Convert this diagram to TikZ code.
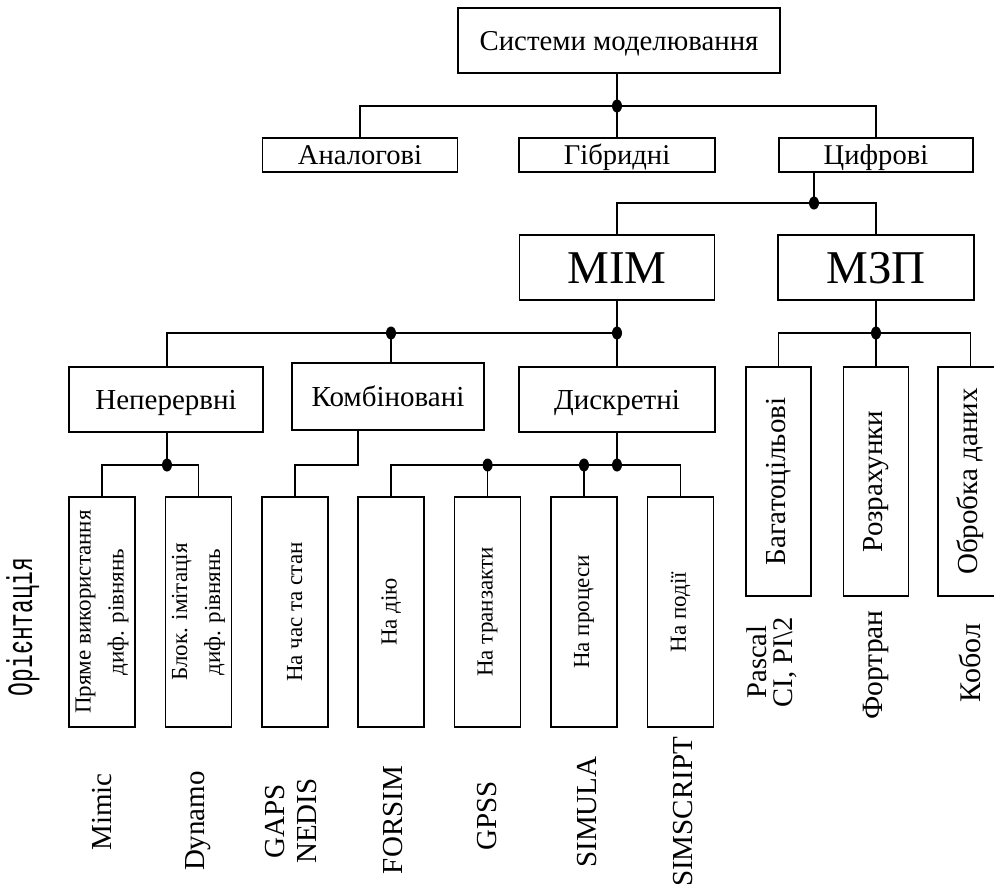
\documentclass[tikz,border=0pt]{standalone}
\usepackage{fontspec}
\setmainfont{Liberation Serif}
\newfontfamily\orfont{Liberation Mono}
\newcommand\fsz[2]{\fontsize{#1}{#2}\selectfont}
\begin{document}
\begin{tikzpicture}[x=1pt,y=-1pt, line width=1.6pt,
  box/.style={draw, rectangle, inner sep=0pt, align=center},
  hbox/.style={box, text depth=0pt},
  vbox/.style={box, minimum width=66, minimum height=230},
  vtext/.style={rotate=90, align=center, inner sep=0pt},
  lbl/.style={rotate=90, align=center, inner sep=0pt, font=\fsz{29}{32}}]
\useasboundingbox (0,0) rectangle (994,887);
% level 1
\node[hbox, text height=19.6pt, minimum width=322, minimum height=65, font=\fsz{28.8}{32}] (top) at (619,40.5) {Системи моделювання};
% level 2
\node[hbox, text height=19.4pt, minimum width=195, minimum height=34, font=\fsz{28.6}{30}] (an) at (360,155) {Аналогові};
\node[hbox, text height=19.4pt, minimum width=196, minimum height=34, font=\fsz{28.6}{30}] (gi) at (617,155) {Гібридні};
\node[hbox, text height=19.4pt, minimum width=194, minimum height=34, font=\fsz{28.6}{30}] (ci) at (876,155) {Цифрові};
% level 3
\node[hbox, text height=31pt, minimum width=195, minimum height=65, font=\fsz{47}{50}] (mim) at (617,267.5) {МІМ};
\node[hbox, text height=31pt, minimum width=196, minimum height=65, font=\fsz{47}{50}] (mzp) at (876,267.5) {МЗП};
% level 4
\node[hbox, text height=19.7pt, minimum width=194, minimum height=65, font=\fsz{29}{32}] (ne) at (166,399.5) {Неперервні};
\node[hbox, text height=19.7pt, minimum width=192, minimum height=67, font=\fsz{29}{32}] (ko) at (388,396.5) {Комбіновані};
\node[hbox, text height=19.7pt, minimum width=196, minimum height=65, font=\fsz{29}{32}] (di) at (617,399.5) {Дискретні};
% level 5 (MIM)
\node[vbox] (b1) at (102,612) {};
\node[vbox] (b2) at (198.4,612) {};
\node[vbox] (b3) at (294.8,612) {};
\node[vbox] (b4) at (391.2,612) {};
\node[vbox] (b5) at (487.6,612) {};
\node[vbox] (b6) at (584,612) {};
\node[vbox] (b7) at (680.4,612) {};
\node[vtext, font=\fsz{23}{33}] (t1) at (b1) {Пряме використання\\диф. рівнянь};
\node[vtext, font=\fsz{23}{33}] (t2) at (b2) {Блок. імітація\\диф. рівнянь};
\node[vtext, font=\fsz{23}{33}] (t3) at (b3) {На час та стан};
\node[vtext, font=\fsz{23}{33}] (t4) at (b4) {На дію};
\node[vtext, font=\fsz{23}{33}] (t5) at (b5) {На транзакти};
\node[vtext, font=\fsz{23}{33}] (t6) at (b6) {На процеси};
\node[vtext, font=\fsz{23}{33}] (t7) at (b7) {На події};
% level 5 (MZP)
\node[box, minimum width=65, minimum height=229] (m1) at (778.5,481.5) {};
\node[box, minimum width=65, minimum height=229] (m2) at (876,481.5) {};
\node[box, minimum width=65, minimum height=229] (m3) at (970.5,481.5) {};
\node[vtext, font=\fsz{29}{30}] (u1) at (m1) {Багатоцільові};
\node[vtext, font=\fsz{29}{30}] (u2) at (m2) {Розрахунки};
\node[vtext, font=\fsz{29}{30}] (u3) at (m3) {Обробка даних};
% bottom labels
\node[lbl] (l1) at (102,812) {Mimic};
\node[lbl] (l2) at (198,821) {Dynamo};
\node[lbl] (l3) at (291,821) {GAPS\\NEDIS};
\node[lbl] (l4) at (393,820) {FORSIM};
\node[lbl] (l5) at (487,816) {GPSS};
\node[lbl] (l6) at (587,812) {SIMULA};
\node[lbl] (l7) at (683,812) {SIMSCRIPT};
\node[lbl, font=\fsz{28.5}{26}] (p1) at (772,662) {Pascal\\CI, PI\textbackslash 2};
\node[lbl, font=\fsz{29.5}{30}] (p2) at (876,665) {Фортран};
\node[lbl, font=\fsz{30}{30}] (p3) at (970,663) {Кобол};
\node[rotate=90, inner sep=0pt] (or) at (23,627) {\scalebox{1}[1.55]{\orfont\fsz{23}{26}Орієнтація}};
% junctions
\coordinate (j1) at (617,106);
\coordinate (j2) at (814,203);
\coordinate (j3) at (617,333);
\coordinate (j3k) at (391,333);
\coordinate (j4) at (876,333);
\coordinate (j5) at (167,465);
\coordinate (kb) at (358,465);
\coordinate (j6) at (617,465);
% connectors
\draw (top.south -| j1) -- (j1);
\draw (an.north) |- (j1) -| (ci.north);
\draw (gi.north) -- (j1);
\draw (ci.south -| j2) -- (j2);
\draw (mim.north) |- (j2) -| (mzp.north);
\draw (mim.south) -- (j3);
\draw (ne.north -| j5) |- (j3);
\draw (ko.north -| j3k) -- (j3k);
\draw (di.north) -- (j3);
\draw (mzp.south) -- (j4);
\draw (m1.north) |- (j4) -| (m3.north);
\draw (m2.north) -- (j4);
\draw (ne.south -| j5) -- (j5);
\draw (b1.north) |- (j5) -| (b2.north);
\draw (ko.south -| kb) -- (kb) -| (b3.north);
\draw (di.south) -- (j6);
\draw (b4.north) |- (j6) -| (b7.north);
\draw (b5.north) -- (b5.north |- j6);
\draw (b6.north) -- (b6.north |- j6);
% dots
\foreach \p in {j1,j2,j3,j3k,j4,j5,j6}
  \fill (\p) ellipse [x radius=5pt, y radius=6.5pt];
\fill (b5.north |- j6) ellipse [x radius=5pt, y radius=6.5pt];
\fill (b6.north |- j6) ellipse [x radius=5pt, y radius=6.5pt];
\end{tikzpicture}
\end{document}
